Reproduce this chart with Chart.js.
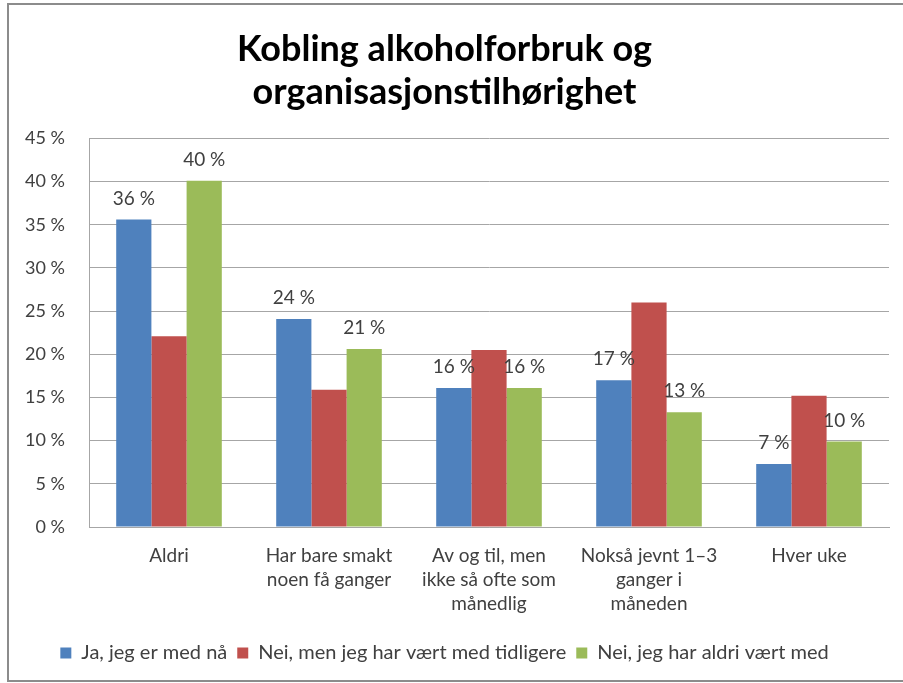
<!DOCTYPE html>
<html>
<head>
<meta charset="utf-8">
<script src="https://cdn.jsdelivr.net/npm/chart.js@4.4.1/dist/chart.umd.min.js"></script>
<style>
  html, body { margin: 0; padding: 0; background: #fff; }
  #frame {
    position: absolute; left: 7px; top: 3px; width: 900px; height: 679px;
    border: 2px solid #8c8c8c; border-right: none; box-sizing: border-box;
  }
  #wrap { position: absolute; left: 0; top: 0; width: 903px; height: 683px; }
</style>
</head>
<body>
<div id="frame"></div>
<div id="wrap"><canvas id="chart"></canvas></div>
<script>
const categories = [
  'Aldri',
  ['Har bare smakt', 'noen få ganger'],
  ['Av og til, men', 'ikke så ofte som', 'månedlig'],
  ['Nokså jevnt 1–3', 'ganger i', 'måneden'],
  'Hver uke'
];
const seriesNames = [
  'Ja, jeg er med nå',
  'Nei, men jeg har vært med tidligere',
  'Nei, jeg har aldri vært med'
];
const jaValues = [35.6, 24.1, 16.1, 17.0, 7.3];
const tidligereValues = [22.1, 15.9, 20.5, 26.0, 15.2];
const aldriValues = [40.1, 20.6, 16.1, 13.3, 9.9];
const yTicks = [0, 5, 10, 15, 20, 25, 30, 35, 40, 45];

const FONT = 'Lato, "Open Sans", sans-serif';

// labels above the blue and green bars only, like the original
const barLabels = {
  id: 'barLabels',
  afterDatasetsDraw(chart) {
    const ctx = chart.ctx;
    ctx.save();
    ctx.font = '19px ' + FONT;
    ctx.fillStyle = '#404040';
    ctx.textAlign = 'center';
    ctx.textBaseline = 'middle';
    [0, 2].forEach(i => {
      const meta = chart.getDatasetMeta(i);
      meta.data.forEach((bar, j) => {
        const v = chart.data.datasets[i].data[j];
        ctx.fillText(Math.round(v) + ' %', bar.x, bar.y - 21);
      });
    });
    ctx.restore();
  }
};

new Chart(document.getElementById('chart').getContext('2d'), {
  type: 'bar',
  data: {
    labels: categories,
    datasets: [
      { label: seriesNames[0], data: jaValues, backgroundColor: '#4f81bd' },
      { label: seriesNames[1], data: tidligereValues, backgroundColor: '#c0504d' },
      { label: seriesNames[2], data: aldriValues, backgroundColor: '#9bbb59' }
    ]
  },
  options: {
    responsive: true,
    maintainAspectRatio: false,
    animation: false,
    datasets: { bar: { barPercentage: 1, categoryPercentage: 0.66 } },
    layout: { padding: { top: 0, right: 14, bottom: 10, left: 0 } },
    scales: {
      y: {
        min: 0,
        max: 45,
        afterFit: s => { s.width = 89; },
        afterBuildTicks: s => { s.ticks = yTicks.map(v => ({ value: v })); },
        ticks: {
          color: '#404040',
          padding: 24,
          font: { family: FONT, size: 18 },
          callback: v => v + ' %'
        },
        grid: { color: '#a6a6a6', drawTicks: false },
        border: { color: '#a6a6a6' }
      },
      x: {
        ticks: {
          color: '#404040',
          padding: 17,
          maxRotation: 0,
          autoSkip: false,
          font: { family: FONT, size: 19, lineHeight: 1.263 }
        },
        grid: { display: false, drawTicks: false },
        border: { color: '#a6a6a6' }
      }
    },
    plugins: {
      title: {
        display: true,
        text: ['Kobling alkoholforbruk og', 'organisasjonstilhørighet'],
        color: '#000',
        font: { family: FONT, size: 36, weight: 'bold', lineHeight: 1.2 },
        padding: { top: 28, bottom: 24 }
      },
      legend: {
        position: 'bottom',
        labels: {
          color: '#404040',
          boxWidth: 11,
          boxHeight: 11,
          padding: 10,
          font: { family: FONT, size: 20 }
        }
      },
      tooltip: { enabled: false }
    }
  },
  plugins: [barLabels]
});
</script>
</body>
</html>
